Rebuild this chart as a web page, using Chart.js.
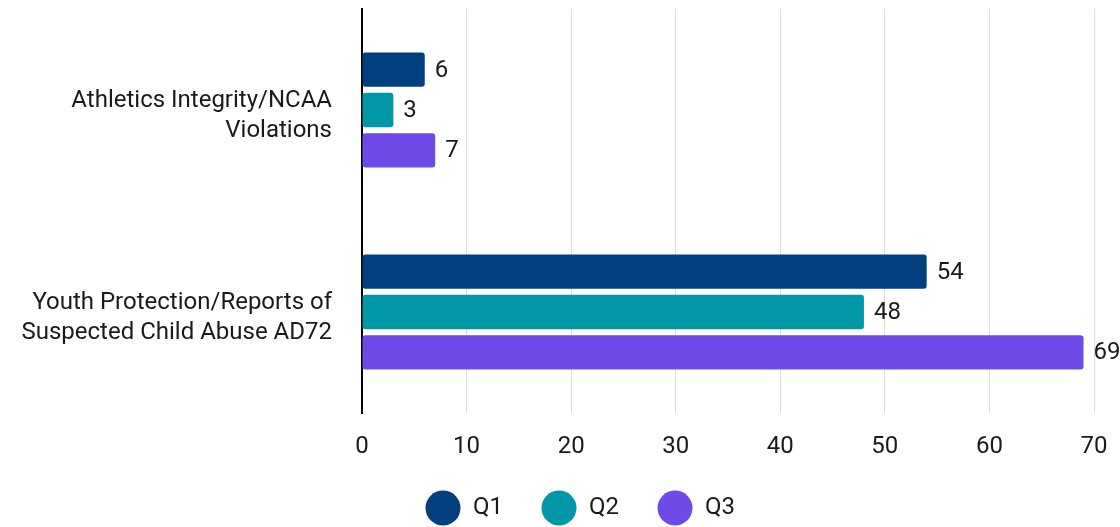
<!DOCTYPE html>
<html lang="en">
<head>
  <meta charset="UTF-8">
  <title>Reports by quarter</title>
  <script src="https://cdn.jsdelivr.net/npm/chart.js"></script>
  <style>
    body { margin: 0; background: #fff; }
  </style>
</head>
<body>
  <canvas id="reportChart" width="1120" height="527"></canvas>

  <script>
    // data
    const categories = [
      ["Athletics Integrity/NCAA", "Violations"],
      ["Youth Protection/Reports of", "Suspected Child Abuse AD72"]
    ];
    const seriesNames = ["Q1", "Q2", "Q3"];
    const q1 = [6, 54];
    const q2 = [3, 48];
    const q3 = [7, 69];
    const xTicks = [0, 10, 20, 30, 40, 50, 60, 70];

    const colors = ["#00407f", "#0098a6", "#6f4ae8"];

    Chart.defaults.font.family = "Roboto";
    Chart.defaults.font.size = 24;
    Chart.defaults.color = "#1a1a1a";

    // legend dots: a canvas per series, circle pushed to the right of the box
    function makeDot(color) {
      const c = document.createElement("canvas");
      c.width = 64;
      c.height = 36;
      const g = c.getContext("2d");
      g.fillStyle = color;
      g.beginPath();
      g.arc(46, 18, 17.5, 0, Math.PI * 2);
      g.fill();
      return c;
    }
    const dots = colors.map(makeDot);

    // value labels at the end of each bar
    const barLabels = {
      id: "barLabels",
      afterDatasetsDraw(chart) {
        const ctx = chart.ctx;
        ctx.save();
        ctx.font = "24px Roboto";
        ctx.fillStyle = "#1a1a1a";
        ctx.textBaseline = "middle";
        ctx.textAlign = "left";
        chart.data.datasets.forEach((ds, i) => {
          chart.getDatasetMeta(i).data.forEach((bar, j) => {
            ctx.fillText(ds.data[j], bar.x + 10, bar.y + 1);
          });
        });
        ctx.restore();
      }
    };

    // the legend row sits a little right of the canvas centre in the original
    const legendNudge = {
      id: "legendNudge",
      afterLayout(chart) {
        chart.legend.left += 19;
        chart.legend.right += 19;
      }
    };

    const allSeries = [q1, q2, q3];

    new Chart(document.getElementById("reportChart"), {
      type: "bar",
      data: {
        labels: categories,
        datasets: seriesNames.map((name, i) => ({
          label: name,
          data: allSeries[i],
          backgroundColor: colors[i],
          borderRadius: 3,
          borderSkipped: false,
          categoryPercentage: 0.6,
          barPercentage: 0.85
        }))
      },
      options: {
        indexAxis: "y",
        responsive: false,
        animation: false,
        layout: { padding: { top: 9, right: 26, left: 0, bottom: -3 } },
        plugins: {
          tooltip: { enabled: false },
          legend: {
            position: "bottom",
            labels: {
              usePointStyle: true,
              pointStyleWidth: 64,
              padding: 10,
              font: { size: 24 },
              generateLabels: chart =>
                Chart.defaults.plugins.legend.labels.generateLabels(chart)
                  .map((it, i) => ({ ...it, pointStyle: dots[i] }))
            }
          }
        },
        scales: {
          x: {
            min: 0,
            max: 70,
            afterBuildTicks: scale => { scale.ticks = xTicks.map(v => ({ value: v })); },
            afterFit: scale => {
              scale.height = 73;
              scale.paddingLeft = 0;
              scale.paddingRight = 0;
            },
            grid: { color: "#dddddd", lineWidth: 1, drawTicks: false },
            border: { display: false },
            ticks: { padding: 20, font: { size: 24 } }
          },
          y: {
            afterFit: scale => {
              scale.width = 362;
              scale.paddingTop = 0;
              scale.paddingBottom = 0;
            },
            grid: { display: false, drawTicks: false },
            border: { display: true, color: "#000000", width: 2 },
            ticks: { padding: 30, labelOffset: 6, font: { size: 24, lineHeight: 1.22 } }
          }
        }
      },
      plugins: [barLabels, legendNudge]
    });
  </script>
</body>
</html>
